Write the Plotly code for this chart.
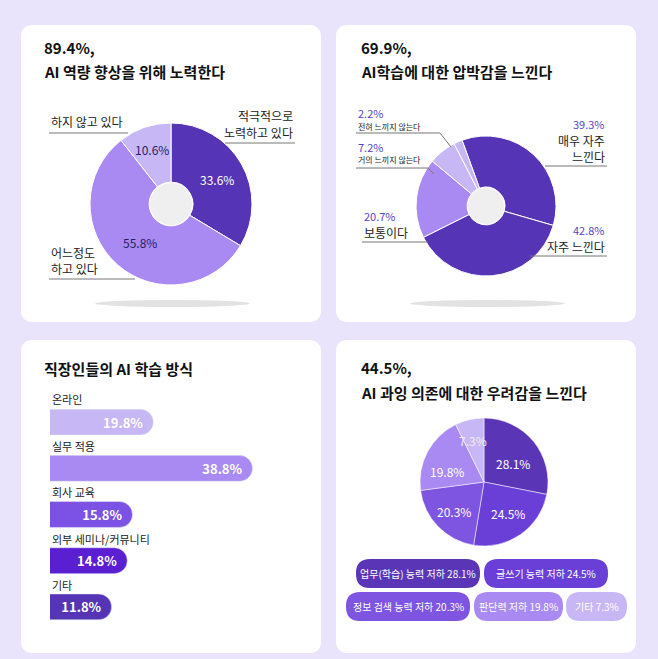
import plotly.graph_objects as go

W, H = 658, 659
FONT = "Noto Sans CJK KR"

# data
effort_labels = ["적극적으로 노력하고 있다", "어느정도 하고 있다", "하지 않고 있다"]
effort_vals = [33.6, 55.8, 10.6]
pressure_labels = ["매우 자주 느낀다", "자주 느낀다", "보통이다", "거의 느끼지 않는다", "전혀 느끼지 않는다"]
pressure_vals = [39.3, 42.8, 20.7, 7.2, 2.2]
method_labels = ["온라인", "실무 적용", "회사 교육", "외부 세미나/커뮤니티", "기타"]
method_vals = [19.8, 38.8, 15.8, 14.8, 11.8]
worry_labels = ["업무(학습) 능력 저하", "글쓰기 능력 저하", "정보 검색 능력 저하", "판단력 저하", "기타"]
worry_vals = [28.1, 24.5, 20.3, 19.8, 7.3]


def X(px):
    return px / W


def Y(py):
    return 1 - py / H


def rrect(x0, y0, x1, y1, r):
    # rounded rectangle path in paper coords, input in pixels
    pts = [f"M {X(x0 + r)} {Y(y0)}", f"L {X(x1 - r)} {Y(y0)}",
           f"Q {X(x1)} {Y(y0)} {X(x1)} {Y(y0 + r)}", f"L {X(x1)} {Y(y1 - r)}",
           f"Q {X(x1)} {Y(y1)} {X(x1 - r)} {Y(y1)}", f"L {X(x0 + r)} {Y(y1)}",
           f"Q {X(x0)} {Y(y1)} {X(x0)} {Y(y1 - r)}", f"L {X(x0)} {Y(y0 + r)}",
           f"Q {X(x0)} {Y(y0)} {X(x0 + r)} {Y(y0)}", "Z"]
    return " ".join(pts)


def dom(cx, cy, r):
    return dict(x=[X(cx - r), X(cx + r)], y=[Y(cy + r), Y(cy - r)])


fig = go.Figure()

fig.add_trace(go.Pie(
    values=effort_vals, labels=effort_labels, sort=False, direction="clockwise",
    rotation=0, hole=0.27, textinfo="none", hoverinfo="label+percent",
    marker=dict(colors=["#5535b5", "#a98af2", "#c7b8f5"], line=dict(color="white", width=1)),
    domain=dom(171, 204, 81), showlegend=False))

fig.add_trace(go.Pie(
    values=pressure_vals, labels=pressure_labels, sort=False, direction="clockwise",
    rotation=340, hole=0.27, textinfo="none", hoverinfo="label+value",
    marker=dict(colors=["#5535b5", "#5535b5", "#a98af2", "#c7b8f5", "#c7b8f5"],
                line=dict(color="white", width=1)),
    domain=dom(486, 206, 70), showlegend=False))

worry_colors = ["#5a36b6", "#6a3fd8", "#7e55e0", "#a98af2", "#c7b8f5"]
fig.add_trace(go.Pie(
    values=worry_vals, labels=worry_labels, sort=False, direction="clockwise",
    rotation=0, textinfo="none", hoverinfo="label+value",
    marker=dict(colors=worry_colors, line=dict(color="white", width=0.5)),
    domain=dom(484, 482, 64), showlegend=False))

# bars: base offset hides rounding on the left edge
pad = 2.5
fig.add_trace(go.Bar(
    y=method_labels, x=[v + pad for v in method_vals], base=[-pad] * len(method_vals),
    orientation="h", width=0.56,
    marker=dict(color=["#c7b8f5", "#a98af2", "#7b52e3", "#5a1fd1", "#5535b5"]),
    text=[f"<b>{v}%</b>" for v in method_vals], textposition="inside", insidetextanchor="end",
    textfont=dict(color="white", size=13, family=FONT), showlegend=False,
    hoverinfo="y+text"))

shapes = [
    dict(type="path", path=rrect(21, 25, 321, 322, 12), fillcolor="white", line_width=0, layer="below"),
    dict(type="path", path=rrect(336, 25, 636, 322, 12), fillcolor="white", line_width=0, layer="below"),
    dict(type="path", path=rrect(21, 340, 321, 653, 12), fillcolor="white", line_width=0, layer="below"),
    dict(type="path", path=rrect(336, 340, 636, 653, 12), fillcolor="white", line_width=0, layer="below"),
    dict(type="circle", x0=X(150), x1=X(192), y0=Y(225), y1=Y(183), fillcolor="#efefef", line_width=0, layer="below"),
    dict(type="circle", x0=X(468), x1=X(504), y0=Y(224), y1=Y(188), fillcolor="#efefef", line_width=0, layer="below"),
    dict(type="circle", x0=X(95), x1=X(250), y0=Y(307), y1=Y(300), fillcolor="#e2e2e2", line_width=0, layer="below"),
    dict(type="circle", x0=X(410), x1=X(565), y0=Y(307), y1=Y(300), fillcolor="#e2e2e2", line_width=0, layer="below"),
]

line_c = "#777777"


def seg(pts):
    d = "M " + " L ".join(f"{X(a)} {Y(b)}" for a, b in pts)
    return dict(type="path", path=d, line=dict(color=line_c, width=1))


shapes += [
    seg([(49, 133), (128, 133)]), seg([(225, 143), (295, 143)]), seg([(49, 279), (135, 279)]),
    seg([(356, 133), (440, 133), (451, 147)]), seg([(356, 168), (428, 168), (434, 174)]),
    seg([(545, 166), (607, 166)]), seg([(362, 242), (428, 242)]), seg([(530, 256), (607, 256)]),
]

# legend pills for the worry pie
pills = [(356, 559, 480, 588), (484, 559, 608, 588), (346, 592, 470, 621), (474, 592, 563, 621), (566, 592, 627, 621)]
ann = []
for (x0, y0, x1, y1), lab, v, c in zip(pills, worry_labels, worry_vals, worry_colors):
    shapes.append(dict(type="path", path=rrect(x0, y0, x1, y1, 14), fillcolor=c, line_width=0))
    ann.append(dict(x=X((x0 + x1) / 2), y=Y((y0 + y1) / 2), text=f"{lab} {v}%", xanchor="center",
                    font=dict(size=10, color="white")))

for s in shapes:
    s.update(xref="paper", yref="paper")


def txt(x, y, s, size=12, color="#222222", anchor="left", bold=False):
    ann.append(dict(x=X(x), y=Y(y), text=f"<b>{s}</b>" if bold else s, xanchor=anchor,
                    font=dict(size=size, color=color)))


# titles
txt(42, 47, "89.4%,", 15, "#111", bold=True)
txt(42, 71, "AI 역량 향상을 위해 노력한다", 15, "#111", bold=True)
txt(359, 47, "69.9%,", 15, "#111", bold=True)
txt(359, 71, "AI학습에 대한 압박감을 느낀다", 15, "#111", bold=True)
txt(42, 368, "직장인들의 AI 학습 방식", 15, "#111", bold=True)
txt(359, 367, "44.5%,", 15, "#111", bold=True)
txt(359, 392, "AI 과잉 의존에 대한 우려감을 느낀다", 15, "#111", bold=True)

# pie 1 labels
txt(49, 121, "하지 않고 있다")
txt(295, 115, "적극적으로", anchor="right")
txt(295, 132, "노력하고 있다", anchor="right")
txt(49, 252, "어느정도")
txt(49, 268, "하고 있다")
txt(217, 180, f"{effort_vals[0]}%", 12, "white", "center")
txt(140, 242, f"{effort_vals[1]}%", 12, "#2a1a66", "center")
txt(152, 150, f"{effort_vals[2]}%", 12, "#2a1a66", "center")

# pie 2 labels
pc = "#5b3fc4"
txt(356, 113, f"{pressure_vals[4]}%", 11, pc)
txt(356, 126, "전혀 느끼지 않는다", 8)
txt(356, 147, f"{pressure_vals[3]}%", 11, pc)
txt(356, 160, "거의 느끼지 않는다", 8)
txt(607, 124, f"{pressure_vals[0]}%", 11, pc, "right")
txt(607, 140, "매우 자주", 12, anchor="right")
txt(607, 157, "느낀다", 12, anchor="right")
txt(362, 216, f"{pressure_vals[2]}%", 11, pc)
txt(362, 232, "보통이다", 12)
txt(607, 230, f"{pressure_vals[1]}%", 11, pc, "right")
txt(607, 246, "자주 느낀다", 12, anchor="right")

# pie 4 labels
for (x, y), v, c in zip([(513, 463), (508, 513), (454, 511), (447, 471), (473, 440)], worry_vals,
                        ["white", "white", "white", "white", "#eee"]):
    txt(x, y, f"{v}%", 12, c, "center")

# bar category labels
for i, lab in enumerate(method_labels):
    txt(50, 399 + 46.5 * i, lab, 11)

for a in ann:
    a.update(xref="paper", yref="paper", showarrow=False, yanchor="middle")

fig.update_layout(
    width=W, height=H, margin=dict(l=0, r=0, t=0, b=0),
    paper_bgcolor="#e9e4fb", plot_bgcolor="rgba(0,0,0,0)",
    font=dict(family=FONT), barcornerradius=13,
    shapes=shapes, annotations=ann,
    xaxis=dict(domain=[X(50), X(321)], range=[0, 271 / 5.22], visible=False, fixedrange=True),
    yaxis=dict(domain=[Y(630), Y(399)], autorange="reversed", visible=False, fixedrange=True),
)

fig.write_html("out.html", config={"displayModeBar": False},
               post_script="document.body.style.margin='0';")
